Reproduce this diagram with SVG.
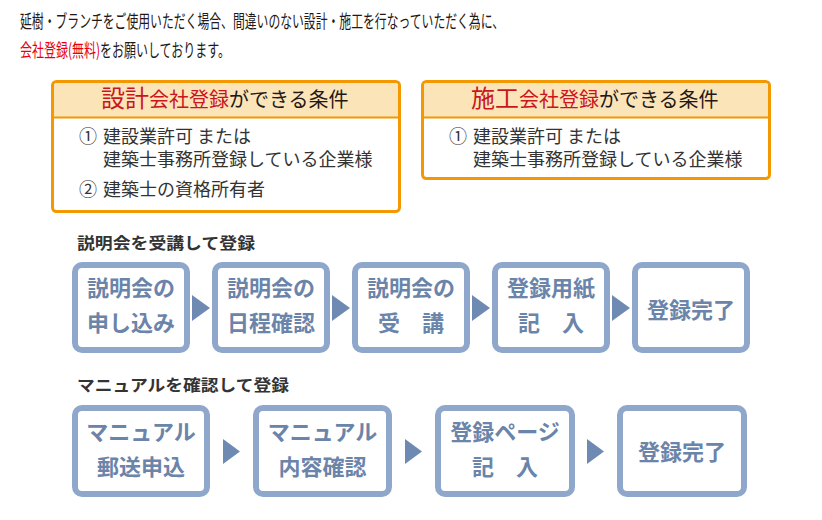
<svg xmlns="http://www.w3.org/2000/svg" width="822" height="520" viewBox="0 0 822 520">
<style>
text{font-family:"Noto Sans CJK JP","Noto Sans",sans-serif}
.intro{font-size:18px;fill:#231815}
.red{fill:#E60012}
.cbox{fill:#fff;stroke:#F39800;stroke-width:3}
.chead{fill:#FCE4B9}
.hred{fill:#C9161D}
.hdark{fill:#231815}
.item{font-size:18px;fill:#333}
.lbl{font-size:16px;font-weight:bold;fill:#333}
.step rect{fill:#fff;stroke:#8EA7CB;stroke-width:6}
.step text{font-size:22px;font-weight:bold;fill:#6B84A9;text-anchor:middle}
.arr{fill:#6E8AB3}
</style>
<rect width="822" height="520" fill="#fff"/>
<g id="intro">
<text class="intro" x="20" y="28" textLength="484" lengthAdjust="spacingAndGlyphs">延樹・ブランチをご使用いただく場合、間違いのない設計・施工を行なっていただく為に、</text>
<text class="intro" x="20" y="57" textLength="210" lengthAdjust="spacingAndGlyphs"><tspan class="red">会社登録(無料)</tspan>をお願いしております。</text>
</g>
<g id="cond-design">
<rect class="cbox" x="52.5" y="81.5" width="347" height="130" rx="4"/>
<path class="chead" d="M54,117 V86 Q54,83 57,83 H395 Q398,83 398,86 V117 Z"/>
<line x1="53" y1="117.5" x2="399" y2="117.5" stroke="#F39800" stroke-width="2"/>
<text x="101" y="107"><tspan class="hred" font-size="24">設計</tspan><tspan class="hred" font-size="20">会社登録</tspan><tspan class="hdark" font-size="20">ができる条件</tspan></text>
<text class="item" x="79" y="143">①</text>
<text class="item" x="103" y="143">建設業許可 または</text>
<text class="item" x="103" y="165.5">建築士事務所登録している企業様</text>
<text class="item" x="79" y="195.5">②</text>
<text class="item" x="103" y="195.5">建築士の資格所有者</text>
</g>
<g id="cond-construction">
<rect class="cbox" x="422.5" y="81.5" width="347" height="97" rx="4"/>
<path class="chead" d="M424,117 V86 Q424,83 427,83 H765 Q768,83 768,86 V117 Z"/>
<line x1="423" y1="117.5" x2="769" y2="117.5" stroke="#F39800" stroke-width="2"/>
<text x="471" y="107"><tspan class="hred" font-size="24">施工</tspan><tspan class="hred" font-size="20">会社登録</tspan><tspan class="hdark" font-size="20">ができる条件</tspan></text>
<text class="item" x="449" y="143">①</text>
<text class="item" x="473" y="143">建設業許可 または</text>
<text class="item" x="473" y="165.5">建築士事務所登録している企業様</text>
</g>
<g id="label-seminar">
<text class="lbl" x="77" y="249" textLength="178" lengthAdjust="spacingAndGlyphs">説明会を受講して登録</text>
</g>
<g id="s1-1" class="step"><rect x="75" y="265" width="112" height="85" rx="7"/><text x="131" y="296">説明会の</text><text x="131" y="331">申し込み</text></g>
<g id="s1-2" class="step"><rect x="215" y="265" width="112" height="85" rx="7"/><text x="271" y="296">説明会の</text><text x="271" y="331">日程確認</text></g>
<g id="s1-3" class="step"><rect x="355" y="265" width="112" height="85" rx="7"/><text x="411" y="296">説明会の</text><text x="411" y="331">受　講</text></g>
<g id="s1-4" class="step"><rect x="495" y="265" width="112" height="85" rx="7"/><text x="551" y="296">登録用紙</text><text x="551" y="331">記　入</text></g>
<g id="s1-5" class="step"><rect x="635" y="265" width="112" height="85" rx="7"/><text x="691" y="318">登録完了</text></g>
<g id="label-manual">
<text class="lbl" x="77" y="391" textLength="212" lengthAdjust="spacingAndGlyphs">マニュアルを確認して登録</text>
</g>
<g id="s2-1" class="step"><rect x="75" y="408" width="132" height="86" rx="7"/><text x="141" y="440">マニュアル</text><text x="141" y="475">郵送申込</text></g>
<g id="s2-2" class="step"><rect x="256" y="408" width="133" height="86" rx="7"/><text x="322.5" y="440">マニュアル</text><text x="322.5" y="475">内容確認</text></g>
<g id="s2-3" class="step"><rect x="438" y="408" width="134" height="86" rx="7"/><text x="505" y="440">登録ページ</text><text x="505" y="475">記　入</text></g>
<g id="s2-4" class="step"><rect x="620" y="408" width="124" height="86" rx="7"/><text x="682" y="460">登録完了</text></g>
<g id="connectors" class="arr">
<polygon points="192,295 210,308 192,321"/>
<polygon points="332,295 350,308 332,321"/>
<polygon points="472,295 490,308 472,321"/>
<polygon points="612,295 630,308 612,321"/>
<polygon points="223,439 240,451.5 223,464"/>
<polygon points="405,439 422,451.5 405,464"/>
<polygon points="587,439 604,451.5 587,464"/>
</g>
</svg>
